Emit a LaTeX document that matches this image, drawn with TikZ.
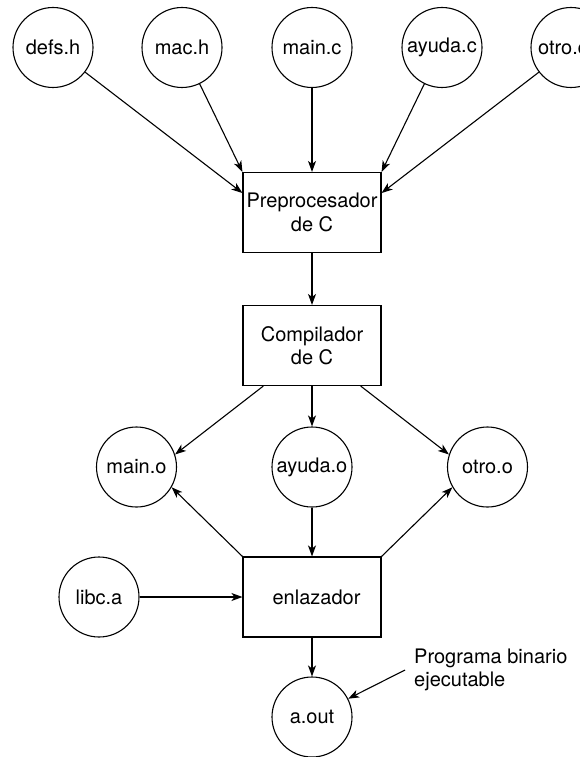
\documentclass[tikz,border=0pt]{standalone}
\usepackage{fontspec}
\setmainfont{TeX Gyre Heros}
\usepackage{tikz}
\usetikzlibrary{arrows.meta,calc}

\begin{document}
\begin{tikzpicture}[x=1pt,y=-1pt,
    font=\fontsize{20}{23.5}\selectfont,
    file/.style={circle,draw,line width=1.1pt,minimum size=80pt,inner sep=0pt},
    stage/.style={rectangle,draw,line width=1.1pt,minimum width=138pt,minimum height=80pt,inner sep=0pt,align=center},
    flow/.style={-{Stealth[length=11pt,width=8pt,inset=3pt]},line width=1.1pt}]
    \useasboundingbox (0,0) rectangle (579,757);

    % Source files - top row
    \foreach \x/\name/\txt in {53/defs/defs.h, 182/mac/mac.h, 312/mainc/main.c, 442/ayudac/ayuda.c} {
        \node[file] (\name) at (\x,47.5) {\txt};
    }
    % last one runs off the page, text sits a bit left
    \node[file] (otroc) at (571,47.5) {otro.c\kern16pt};

    % Build stages
    \node[stage] (pre) at (312,212.5) {Preprocesador\\de C};
    \node[stage] (comp) at (312,345.5) {Compilador\\de C};
    \node[stage] (enl) at (312,597) {\kern9pt enlazador};

    % Object files, library and result
    \node[file] (maino) at (136.5,467) {main.o};
    \node[file] (ayudao) at (312,467) {ayuda.o};
    \node[file] (otroo) at (487.5,467) {otro.o};
    \node[file] (libc) at (99,597) {libc.a};
    \node[file] (aout) at (312,717) {a.out};
    \node[anchor=west,align=left,inner xsep=9pt,inner ysep=0pt] (prog) at (405,670) {Programa binario\\ejecutable};

    % Into the preprocessor
    \draw[flow] (defs) -- ($(pre.north west)!0.26!(pre.south west)$);
    \draw[flow] (mac) -- (pre.north west);
    \draw[flow] (mainc) -- (pre);
    \draw[flow] (ayudac) -- (pre.north east);
    \draw[flow] (otroc) -- ($(pre.north east)!0.26!(pre.south east)$);
    \draw[flow] (pre) -- (comp);

    % Compiler output
    \draw[flow] ($(comp.south west)!0.15!(comp.south east)$) -- (maino.18);
    \draw[flow] (comp) -- (ayudao);
    \draw[flow] ($(comp.south west)!0.85!(comp.south east)$) -- (otroo.162);

    % Linker
    \draw[flow] (enl.north west) -- (maino.-30);
    \draw[flow] (ayudao) -- (enl);
    \draw[flow] (enl.north east) -- (otroo.210);
    \draw[flow] (libc) -- (enl);
    \draw[flow] (enl) -- (aout);
    \draw[flow] (prog.west) -- (aout);
\end{tikzpicture}
\end{document}
